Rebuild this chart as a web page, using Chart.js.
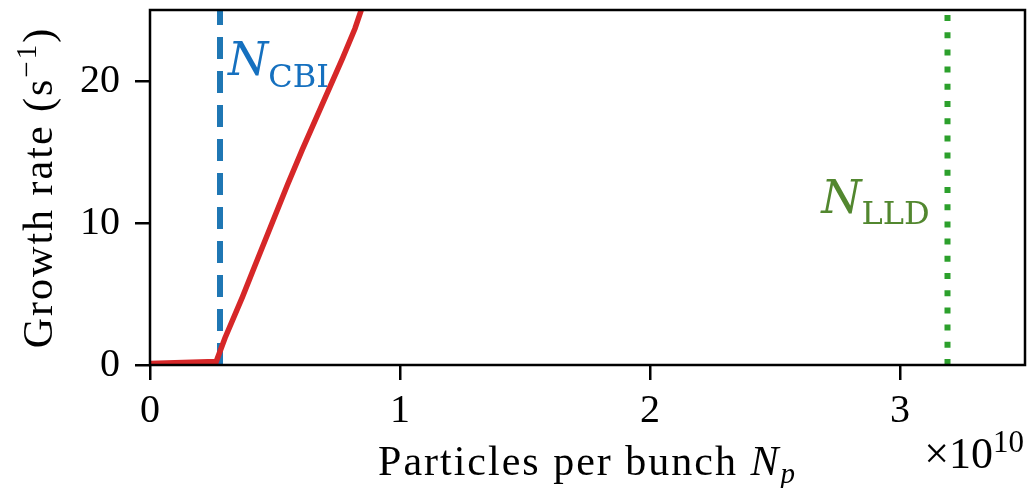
<!DOCTYPE html>
<html>
<head>
<meta charset="utf-8">
<script src="https://cdn.jsdelivr.net/npm/chart.js@4.4.1/dist/chart.umd.min.js"></script>
<style>
  html, body { margin: 0; padding: 0; background: #fff; }
  .chart { position: relative; width: 1030px; height: 488px; }
</style>
</head>
<body>
<div class="chart"><canvas id="growth"></canvas></div>
<script>
// bunch intensity (units of 1e10 particles) and growth rate of the instability (1/s)
const bunchIntensity = [0, 0.265, 0.3, 0.37, 0.42, 0.55, 0.61, 0.77, 0.82, 0.845, 0.86];
const growthRate = [0.1, 0.25, 1.9, 4.8, 7.0, 12.7, 15.2, 21.6, 23.7, 25.0, 26.2];

// thresholds: coupled-bunch instability and loss of Landau damping
const thresholdCBI = 0.28;
const thresholdLLD = 3.19;

const xRange = [0, 3.5];
const yRange = [0, 25];
const xTicks = [0, 1, 2, 3];
const yTicks = [0, 10, 20];

// where the threshold names sit (data coords, left edge / baseline)
const labelCBI = { x: 0.312, y: 20.4 };
const labelLLD = { x: 2.685, y: 10.7 };

const serif = "'Liberation Serif', 'Times New Roman', serif";
const mathSerif = "'DejaVu Serif', serif";

// draws a row of text pieces with different fonts / offsets
const drawRuns = (ctx, runs, x, y, align) => {
  let total = 0;
  runs.forEach((r) => {
    ctx.font = r.font;
    total += ctx.measureText(r.text).width;
  });
  let cx = x;
  if (align === "center") cx = x - total / 2;
  if (align === "right") cx = x - total;
  runs.forEach((r) => {
    ctx.font = r.font;
    ctx.fillText(r.text, cx, y + (r.dy || 0));
    cx += ctx.measureText(r.text).width;
  });
};

const extras = {
  id: "extras",
  afterDraw(chart) {
    const { ctx, chartArea, scales } = chart;
    const { left, right, top, bottom } = chartArea;
    ctx.save();

    // frame
    ctx.strokeStyle = "#000";
    ctx.lineWidth = 2.5;
    ctx.strokeRect(left, top, right - left, bottom - top);

    ctx.textBaseline = "alphabetic";
    ctx.textAlign = "left";

    // threshold names
    ctx.fillStyle = "#1570bf";
    drawRuns(ctx, [
      { text: "N", font: `italic 46px ${mathSerif}` },
      { text: "CBI", font: `32px ${mathSerif}`, dy: 12 },
    ], scales.x.getPixelForValue(labelCBI.x), scales.y.getPixelForValue(labelCBI.y), "left");

    ctx.fillStyle = "#52872f";
    drawRuns(ctx, [
      { text: "N", font: `italic 46px ${mathSerif}` },
      { text: "LLD", font: `32px ${mathSerif}`, dy: 11 },
    ], scales.x.getPixelForValue(labelLLD.x), scales.y.getPixelForValue(labelLLD.y), "left");

    // axis titles
    ctx.fillStyle = "#000";
    ctx.letterSpacing = "2px";
    drawRuns(ctx, [
      { text: "Particles per bunch ", font: `42px ${serif}` },
      { text: "N", font: `italic 42px ${serif}` },
      { text: "p", font: `italic 29px ${serif}`, dy: 8 },
    ], (left + right) / 2, 475, "center");

    ctx.save();
    ctx.translate(52, (top + bottom) / 2);
    ctx.rotate(-Math.PI / 2);
    drawRuns(ctx, [
      { text: "Growth rate (s", font: `42px ${serif}` },
      { text: "\u22121", font: `29px ${serif}`, dy: -16 },
      { text: ")", font: `42px ${serif}` },
    ], 0, 0, "center");
    ctx.restore();
    ctx.letterSpacing = "0px";

    // scale factor of the x axis
    drawRuns(ctx, [
      { text: "\u00d710", font: `44px ${serif}` },
      { text: "10", font: `31px ${serif}`, dy: -16 },
    ], right - 1, 468, "right");

    ctx.restore();
  },
};

const tickFont = { family: serif, size: 40, lineHeight: 1.2 };

// keep the plot box fixed: no extra room for overhanging tick labels
const noPadding = (scale) => {
  scale.paddingTop = 0;
  scale.paddingBottom = 0;
  scale.paddingLeft = 0;
  scale.paddingRight = 0;
};

new Chart(document.getElementById("growth"), {
  type: "scatter",
  data: {
    datasets: [
      {
        label: "growth rate",
        data: bunchIntensity.map((x, i) => ({ x, y: growthRate[i] })),
        showLine: true,
        borderColor: "#d62728",
        borderWidth: 5.5,
        pointRadius: 0,
        clip: 0,
      },
      {
        label: "CBI threshold",
        data: yRange.map((y) => ({ x: thresholdCBI, y })),
        showLine: true,
        borderColor: "#1f77b4",
        borderWidth: 6,
        borderDash: [22, 12],
        borderCapStyle: "butt",
        pointRadius: 0,
        clip: 0,
      },
      {
        label: "LLD threshold",
        data: yRange.map((y) => ({ x: thresholdLLD, y })),
        showLine: true,
        borderColor: "#2ca02c",
        borderWidth: 6,
        borderDash: [6, 11.2],
        borderCapStyle: "butt",
        pointRadius: 0,
        clip: 0,
      },
    ],
  },
  options: {
    responsive: true,
    maintainAspectRatio: false,
    animation: false,
    layout: { padding: { left: 0, top: 10, right: 5, bottom: 0 } },
    plugins: {
      legend: { display: false },
      tooltip: { enabled: false },
    },
    scales: {
      x: {
        type: "linear",
        min: xRange[0],
        max: xRange[1],
        afterBuildTicks: (scale) => {
          scale.ticks = xTicks.map((value) => ({ value }));
        },
        afterFit: (scale) => {
          scale.height = 123;
          noPadding(scale);
        },
        border: { display: false },
        grid: {
          drawOnChartArea: false,
          drawTicks: true,
          tickLength: 15,
          color: "#000",
          lineWidth: 2.5,
        },
        ticks: { color: "#000", font: tickFont, padding: 7, maxRotation: 0 },
      },
      y: {
        type: "linear",
        min: yRange[0],
        max: yRange[1],
        afterBuildTicks: (scale) => {
          scale.ticks = yTicks.map((value) => ({ value }));
        },
        afterFit: (scale) => {
          scale.width = 150;
          noPadding(scale);
        },
        border: { display: false },
        grid: {
          drawOnChartArea: false,
          drawTicks: true,
          tickLength: 15,
          color: "#000",
          lineWidth: 2.5,
        },
        ticks: { color: "#000", font: tickFont, padding: 15 },
      },
    },
  },
  plugins: [extras],
});
</script>
</body>
</html>
